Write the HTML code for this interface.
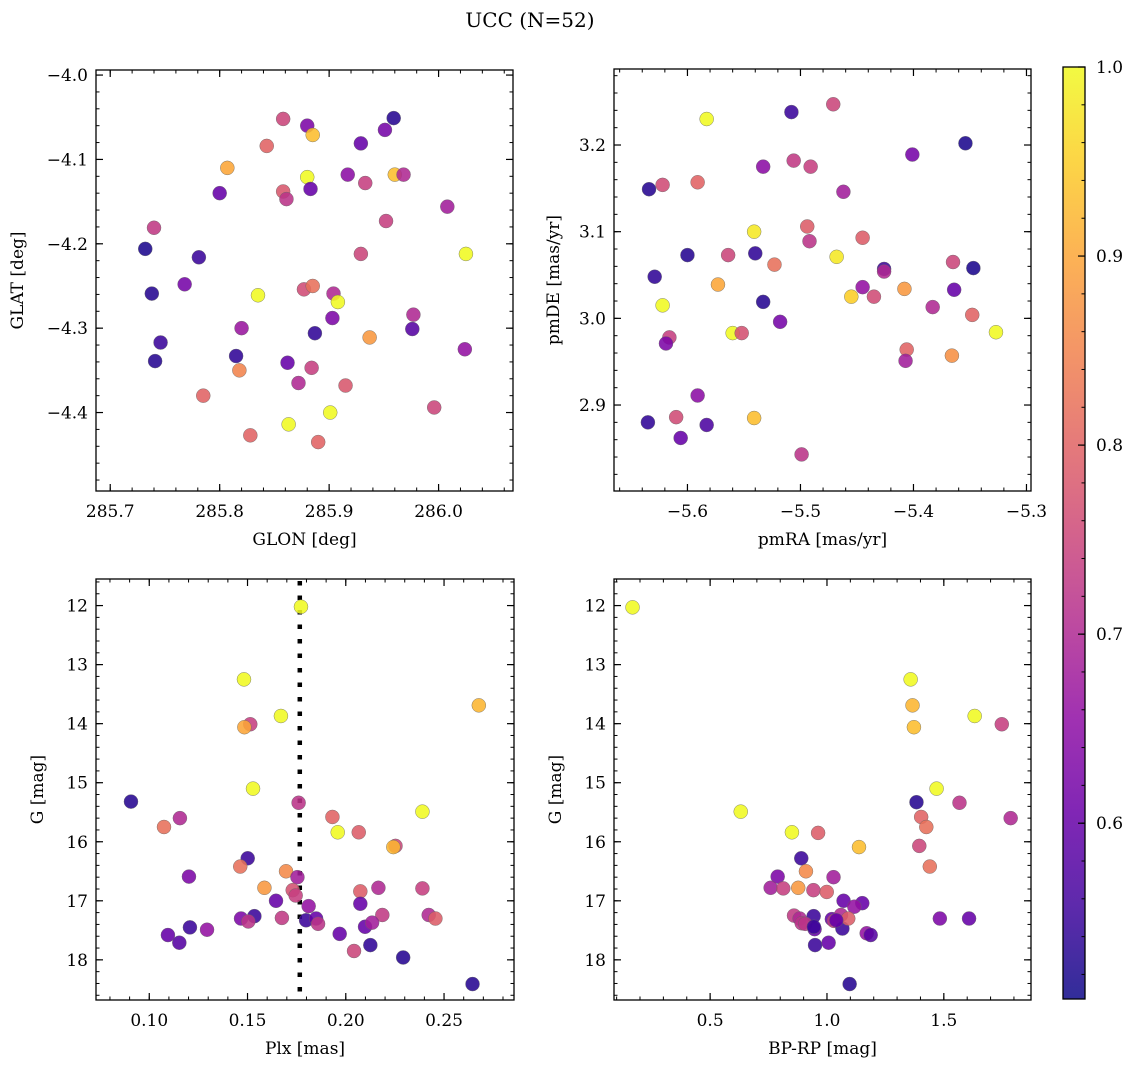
<!DOCTYPE html>
<html><head><meta charset="utf-8">
<style>
html,body{margin:0;padding:0;background:#fff;}
svg text{font-family:"DejaVu Serif","Liberation Serif",serif;fill:#000;}
</style></head>
<body>
<svg id="fig" width="1136" height="1067" viewBox="0 0 1136 1067" xmlns="http://www.w3.org/2000/svg">
<rect width="1136" height="1067" fill="#fff"/>
<text x="530" y="27" font-size="20" text-anchor="middle">UCC (N=52)</text>
</svg>
<script>
// ---- Panel A: GLON vs GLAT ----
const glon=[285.858,285.880,285.885,285.959,285.951,285.929,285.843,285.807,285.880,285.917,285.933,285.960,285.968,285.800,285.858,285.883,285.861,286.008,285.952,285.740,285.732,285.781,285.929,286.025,285.768,285.738,285.835,285.877,285.885,285.904,285.908,285.977,285.903,285.820,285.976,285.887,285.937,285.746,286.024,285.815,285.741,285.862,285.818,285.884,285.872,285.915,285.785,285.996,285.901,285.863,285.828,285.890];
const glat=[-4.052,-4.060,-4.071,-4.051,-4.065,-4.081,-4.084,-4.110,-4.121,-4.118,-4.128,-4.118,-4.118,-4.140,-4.138,-4.135,-4.147,-4.156,-4.173,-4.181,-4.206,-4.216,-4.212,-4.212,-4.248,-4.259,-4.261,-4.254,-4.250,-4.259,-4.269,-4.284,-4.288,-4.300,-4.301,-4.306,-4.311,-4.317,-4.325,-4.333,-4.339,-4.341,-4.350,-4.347,-4.365,-4.368,-4.380,-4.394,-4.400,-4.414,-4.427,-4.435];
const probA=[0.75,0.63,0.93,0.53,0.62,0.60,0.80,0.90,1.00,0.65,0.74,0.93,0.70,0.60,0.78,0.60,0.72,0.68,0.74,0.73,0.52,0.55,0.75,1.00,0.62,0.53,1.00,0.76,0.82,0.70,1.00,0.70,0.63,0.67,0.58,0.54,0.88,0.55,0.66,0.54,0.53,0.60,0.85,0.74,0.70,0.78,0.80,0.75,1.00,1.00,0.80,0.80];
// ---- Panel B: pmRA vs pmDE ----
const pmra=[-5.508,-5.471,-5.583,-5.354,-5.401,-5.533,-5.506,-5.491,-5.634,-5.622,-5.591,-5.462,-5.541,-5.494,-5.492,-5.445,-5.600,-5.564,-5.540,-5.523,-5.468,-5.629,-5.426,-5.426,-5.365,-5.347,-5.573,-5.622,-5.533,-5.445,-5.455,-5.435,-5.408,-5.364,-5.383,-5.348,-5.327,-5.518,-5.560,-5.552,-5.616,-5.619,-5.406,-5.407,-5.366,-5.591,-5.635,-5.610,-5.583,-5.606,-5.541,-5.499];
const pmde=[3.238,3.247,3.230,3.202,3.189,3.175,3.182,3.175,3.149,3.154,3.157,3.146,3.100,3.106,3.089,3.093,3.073,3.073,3.075,3.062,3.071,3.048,3.057,3.054,3.065,3.058,3.039,3.015,3.019,3.036,3.025,3.025,3.034,3.033,3.013,3.004,2.984,2.996,2.983,2.983,2.978,2.971,2.964,2.951,2.957,2.911,2.880,2.886,2.877,2.862,2.885,2.843];
const probB=[0.55,0.75,1.00,0.52,0.62,0.65,0.73,0.74,0.53,0.76,0.80,0.68,0.98,0.79,0.72,0.79,0.53,0.75,0.54,0.82,0.98,0.54,0.55,0.70,0.75,0.52,0.90,1.00,0.53,0.66,0.95,0.76,0.88,0.60,0.70,0.80,1.00,0.62,1.00,0.77,0.74,0.63,0.80,0.68,0.87,0.65,0.54,0.76,0.57,0.60,0.93,0.72];
// ---- Panel C: Plx vs G ----
const plx=[0.1772,0.1482,0.2677,0.1670,0.1514,0.1484,0.1528,0.0907,0.1760,0.2390,0.1156,0.1932,0.1075,0.1959,0.2066,0.2253,0.2242,0.1501,0.1463,0.1202,0.1696,0.1754,0.1586,0.1730,0.1745,0.2074,0.2166,0.2390,0.1645,0.1811,0.2074,0.1467,0.1535,0.1504,0.1675,0.1798,0.1849,0.1859,0.2186,0.2098,0.2134,0.2422,0.2456,0.1095,0.1207,0.1294,0.1153,0.1969,0.2042,0.2125,0.2292,0.2645];
const gC=[12.02,13.25,13.69,13.87,14.01,14.06,15.10,15.32,15.34,15.49,15.60,15.58,15.75,15.84,15.84,16.07,16.09,16.28,16.42,16.59,16.50,16.60,16.78,16.82,16.91,16.84,16.78,16.79,17.00,17.09,17.05,17.30,17.26,17.35,17.29,17.33,17.30,17.39,17.24,17.44,17.37,17.24,17.30,17.58,17.45,17.49,17.71,17.56,17.85,17.75,17.96,18.41];
const probC=[1.00,1.00,0.92,1.00,0.74,0.90,1.00,0.53,0.72,1.00,0.70,0.80,0.82,1.00,0.79,0.75,0.92,0.55,0.82,0.63,0.86,0.68,0.88,0.77,0.74,0.79,0.70,0.74,0.60,0.66,0.60,0.63,0.55,0.72,0.73,0.55,0.60,0.72,0.73,0.60,0.68,0.70,0.79,0.60,0.55,0.66,0.58,0.60,0.75,0.54,0.53,0.53];
const plxLine=0.1766;
// ---- Panel D: BP-RP vs G ----
const bprp=[0.168,1.358,1.366,1.372,1.632,1.748,1.469,1.383,1.567,1.786,0.631,1.403,1.425,0.850,0.962,1.395,1.137,0.890,1.440,0.910,0.789,1.028,0.759,0.813,0.877,0.942,0.999,1.071,1.151,1.117,0.859,0.883,0.943,0.892,0.907,0.947,1.021,1.030,1.060,1.066,1.091,1.483,1.608,1.170,1.187,0.949,1.007,1.097,0.944,1.040];
const gD=[12.03,13.25,13.69,14.06,13.87,14.01,15.10,15.33,15.34,15.60,15.49,15.58,15.75,15.84,15.85,16.07,16.09,16.28,16.42,16.50,16.59,16.60,16.78,16.79,16.78,16.82,16.85,17.00,17.04,17.10,17.25,17.30,17.26,17.38,17.39,17.48,17.31,17.34,17.24,17.47,17.30,17.30,17.30,17.55,17.58,17.75,17.71,18.41,17.44,17.33];
const probD=[1.00,1.00,0.92,0.93,1.00,0.74,1.00,0.53,0.72,0.70,1.00,0.80,0.82,1.00,0.79,0.75,0.93,0.55,0.82,0.86,0.63,0.68,0.68,0.74,0.88,0.74,0.79,0.60,0.60,0.66,0.73,0.70,0.55,0.72,0.72,0.60,0.60,0.73,0.70,0.55,0.79,0.63,0.60,0.66,0.58,0.55,0.60,0.53,0.55,0.60];
// colorbar
const cbTicks=[0.6,0.7,0.8,0.9,1.0];
const vmin=0.507, vmax=1.0;

const NS="http://www.w3.org/2000/svg";
const svg=document.getElementById('fig');
function el(tag,attrs,parent){const e=document.createElementNS(NS,tag);for(const k in attrs)e.setAttribute(k,attrs[k]);(parent||svg).appendChild(e);return e;}
const stops=[[0,[13,8,135]],[0.1,[65,4,157]],[0.2,[106,0,168]],[0.3,[143,13,164]],[0.4,[177,42,144]],[0.5,[204,71,120]],[0.6,[225,100,98]],[0.7,[242,132,75]],[0.8,[252,166,54]],[0.9,[252,206,37]],[1,[240,249,33]]];
function plasma(t){t=Math.max(0,Math.min(1,t));for(let i=1;i<stops.length;i++){if(t<=stops[i][0]){const a=stops[i-1],b=stops[i];const f=(t-a[0])/(b[0]-a[0]);const c=a[1].map((v,j)=>Math.round(v+(b[1][j]-v)*f));return `rgb(${c[0]},${c[1]},${c[2]})`;}}return 'rgb(240,249,33)';}
function colorOf(p){return plasma((p-vmin)/(vmax-vmin));}
function fmtNum(v,d){const s=Math.abs(v).toFixed(d);return (v<-1e-9?'\u2212':'')+s;}

function axes(c){
  const g=el('g',{});
  
  
  const sx=v=>c.x0+(v-c.xmin)/(c.xmax-c.xmin)*(c.x1-c.x0);
  const sy=v=>c.y0+(v-c.ytop)/(c.ybot-c.ytop)*(c.y1-c.y0);
  const lo=Math.min(c.ytop,c.ybot),hi=Math.max(c.ytop,c.ybot);
  for(let k=Math.ceil(c.xmin/c.xmn-1e-6);k*c.xmn<=c.xmax+1e-9;k++){const x=sx(k*c.xmn);
    el('line',{x1:x,x2:x,y1:c.y1,y2:c.y1-3.5,stroke:'#000','stroke-width':1},g);
    el('line',{x1:x,x2:x,y1:c.y0,y2:c.y0+3.5,stroke:'#000','stroke-width':1},g);}
  for(let k=Math.ceil(lo/c.ymn-1e-6);k*c.ymn<=hi+1e-9;k++){const y=sy(k*c.ymn);
    el('line',{x1:c.x0,x2:c.x0+3.5,y1:y,y2:y,stroke:'#000','stroke-width':1},g);
    el('line',{x1:c.x1,x2:c.x1-3.5,y1:y,y2:y,stroke:'#000','stroke-width':1},g);}
  c.xt.forEach(v=>{const x=sx(v);
    el('line',{x1:x,x2:x,y1:c.y1,y2:c.y1-7,stroke:'#000','stroke-width':1.2},g);
    el('line',{x1:x,x2:x,y1:c.y0,y2:c.y0+7,stroke:'#000','stroke-width':1.2},g);
    const t=el('text',{x:x,y:c.y1+26,'font-size':17,'text-anchor':'middle'},g);t.textContent=fmtNum(v,c.xd);
    
    });
  c.yt.forEach(v=>{const y=sy(v);
    el('line',{x1:c.x0,x2:c.x0+7,y1:y,y2:y,stroke:'#000','stroke-width':1.2},g);
    el('line',{x1:c.x1,x2:c.x1-7,y1:y,y2:y,stroke:'#000','stroke-width':1.2},g);
    const t=el('text',{x:c.x0-8,y:y+6,'font-size':17,'text-anchor':'end'},g);t.textContent=fmtNum(v,c.yd);
    
    });
  el('rect',{x:c.x0,y:c.y0,width:c.x1-c.x0,height:c.y1-c.y0,fill:'none',stroke:'#000','stroke-width':1.3},g);
  const xl=el('text',{x:(c.x0+c.x1)/2,y:c.y1+54,'font-size':17,'text-anchor':'middle'},g);xl.textContent=c.xlabel;
  
  
  const yl=el('text',{x:c.ylx,y:(c.y0+c.y1)/2,'font-size':17,'text-anchor':'middle',transform:`rotate(-90 ${c.ylx} ${(c.y0+c.y1)/2})`},g);yl.textContent=c.ylabel;
  
  
  return {g,sx,sy};
}
function scatter(ax,xs,ys,ps){
  xs.forEach((v,i)=>{const c=el('circle',{cx:ax.sx(v),cy:ax.sy(ys[i]),r:7,fill:colorOf(ps[i]),'fill-opacity':0.88,stroke:'#666','stroke-width':0.4},ax.g);
    
    });
}
const A=axes({name:'panel-glon-glat',x0:96,x1:513,y0:70,y1:491,xmin:285.687,xmax:286.068,ytop:-3.994,ybot:-4.493,xt:[285.7,285.8,285.9,286.0],xd:1,xmn:0.02,yt:[-4.0,-4.1,-4.2,-4.3,-4.4],yd:1,ymn:0.02,xlabel:'GLON [deg]',ylabel:'GLAT [deg]',ylx:23});
scatter(A,glon,glat,probA);
const B=axes({name:'panel-pmra-pmde',x0:614,x1:1031,y0:69,y1:491,xmin:-5.665,xmax:-5.296,ytop:3.2877,ybot:2.8008,xt:[-5.6,-5.5,-5.4,-5.3],xd:1,xmn:0.02,yt:[3.2,3.1,3.0,2.9],yd:1,ymn:0.02,xlabel:'pmRA [mas/yr]',ylabel:'pmDE [mas/yr]',ylx:559});
scatter(B,pmra,pmde,probB);
const C=axes({name:'panel-plx-g',x0:96,x1:514,y0:579,y1:1000,xmin:0.0729,xmax:0.2856,ytop:11.55,ybot:18.68,xt:[0.10,0.15,0.20,0.25],xd:2,xmn:0.01,yt:[12,13,14,15,16,17,18],yd:0,ymn:0.2,xlabel:'Plx [mas]',ylabel:'G [mag]',ylx:43});
const dl=el('line',{x1:C.sx(plxLine),x2:C.sx(plxLine),y1:581,y2:999,stroke:'#000','stroke-width':4.5,'stroke-dasharray':'4.5 10'},C.g);


scatter(C,plx,gC,probC);
const D=axes({name:'panel-bprp-g',x0:614,x1:1031,y0:579,y1:1000,xmin:0.0887,xmax:1.873,ytop:11.55,ybot:18.68,xt:[0.5,1.0,1.5],xd:1,xmn:0.1,yt:[12,13,14,15,16,17,18],yd:0,ymn:0.2,xlabel:'BP-RP [mag]',ylabel:'G [mag]',ylx:561});
scatter(D,bprp,gD,probD);

// colorbar
const cb=el('g',{});


const defs=el('defs',{},svg);
const lg=el('linearGradient',{id:'cbg',x1:0,y1:1,x2:0,y2:0},defs);
for(let i=0;i<=20;i++){el('stop',{offset:i/20,'stop-color':plasma(i/20),'stop-opacity':0.85},lg);}
const cy0=67,cy1=999,cx0=1063,cx1=1085;
const cys=v=>cy1-(v-vmin)/(vmax-vmin)*(cy1-cy0);
el('rect',{x:cx0,y:cy0,width:cx1-cx0,height:cy1-cy0,fill:'url(#cbg)'},cb);
for(let k=26;k<=50;k++){const v=k*0.02;if(v<vmin)continue;const y=cys(v);el('line',{x1:cx1,x2:cx1-3.5,y1:y,y2:y,stroke:'#000','stroke-width':1},cb);}
cbTicks.forEach(v=>{const y=cys(v);el('line',{x1:cx1,x2:cx1-7,y1:y,y2:y,stroke:'#000','stroke-width':1.2},cb);
  const t=el('text',{x:cx1+11,y:y+6,'font-size':17},cb);t.textContent=v.toFixed(1);
  
  });
el('rect',{x:cx0,y:cy0,width:cx1-cx0,height:cy1-cy0,fill:'none',stroke:'#000','stroke-width':1.3},cb);
</script>
</body></html>
